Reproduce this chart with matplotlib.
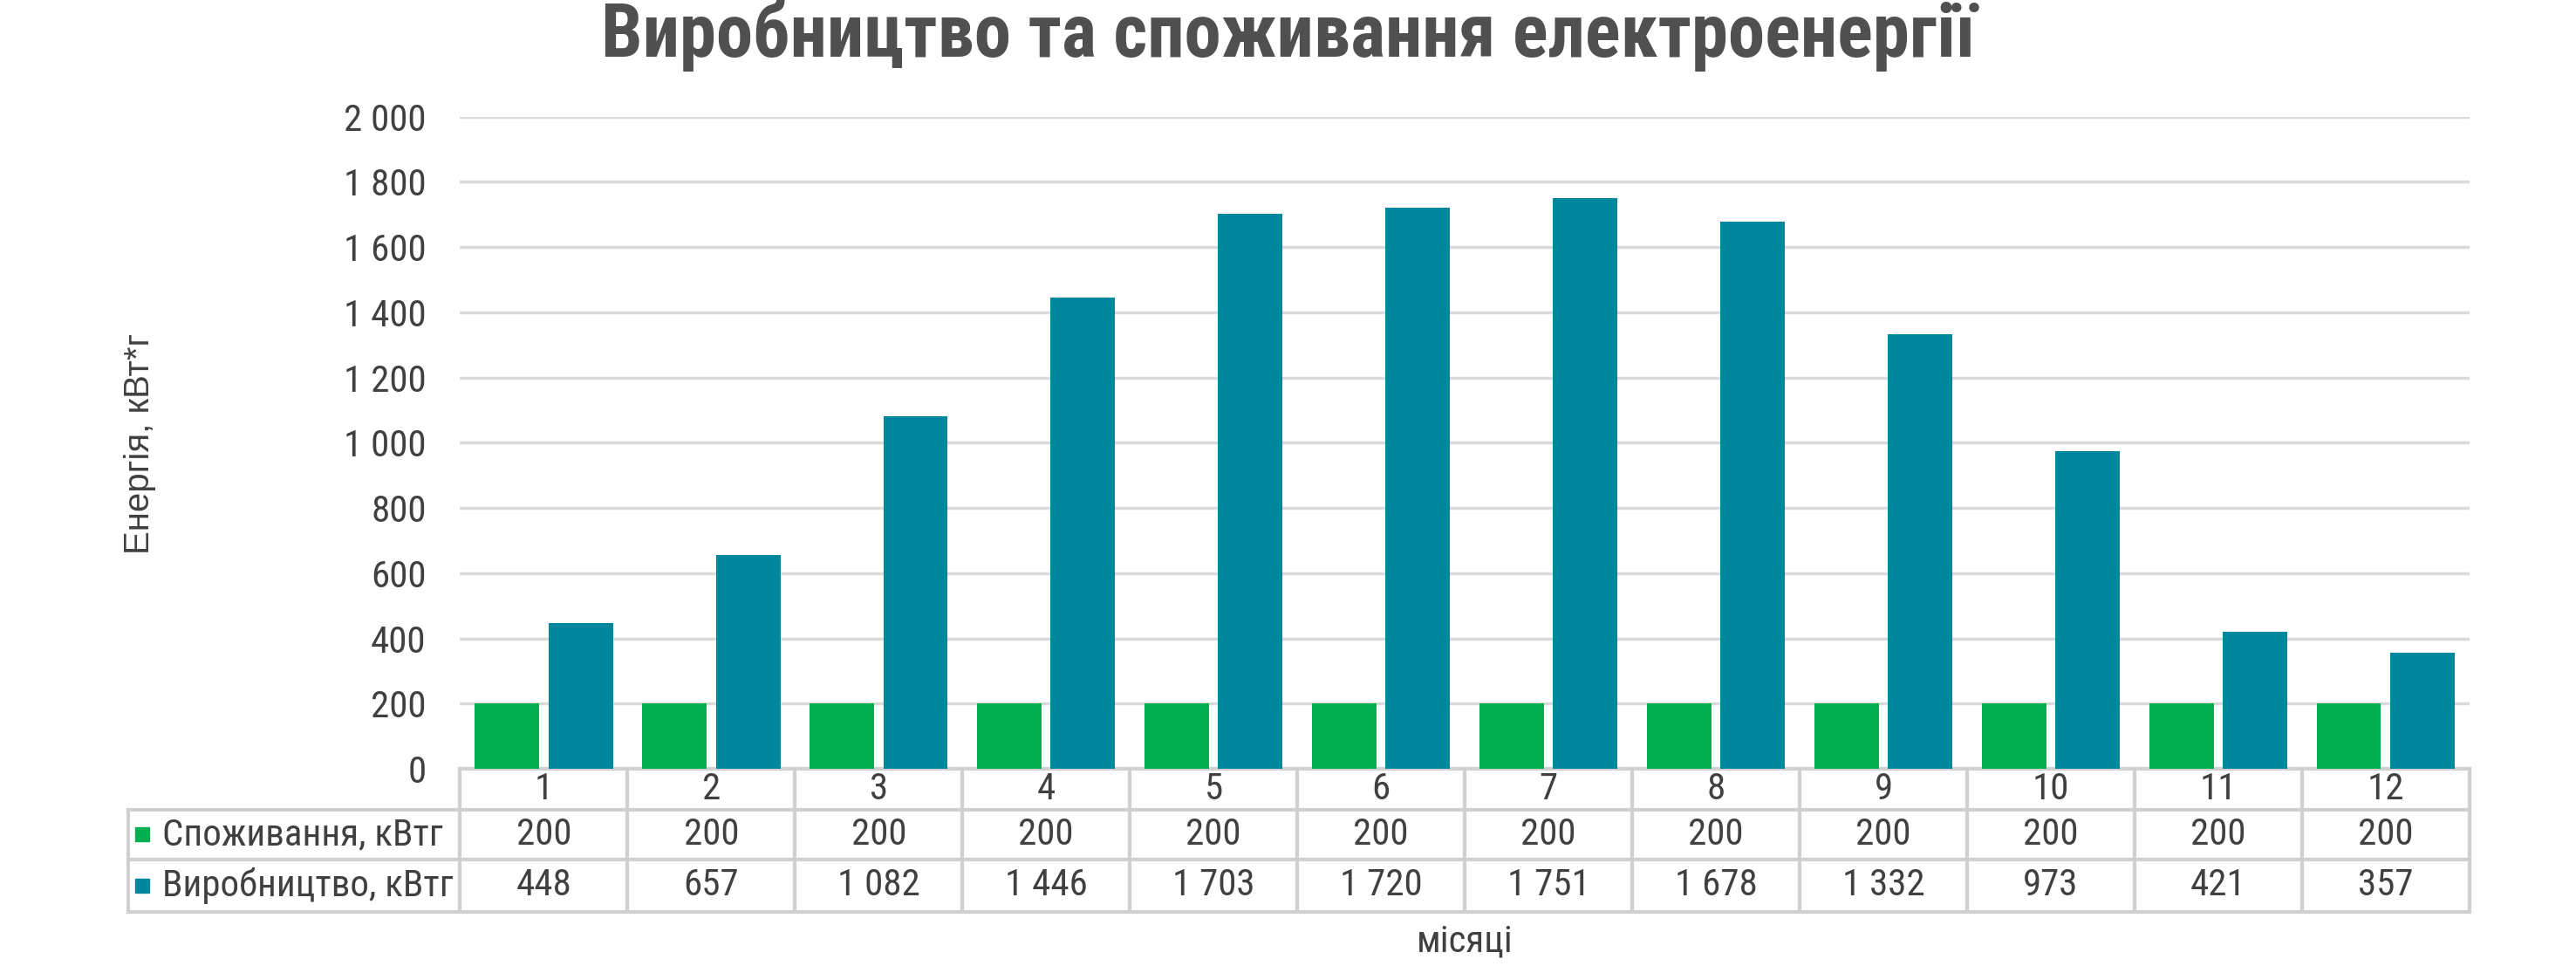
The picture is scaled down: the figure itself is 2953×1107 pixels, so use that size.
import numpy as np
import matplotlib.pyplot as plt
from matplotlib import font_manager
from matplotlib.ticker import FuncFormatter

# look for a narrow sans face (Arial Narrow-like), else plain Liberation Sans
narrow_names = set()
condensed_styles = set()
for f in font_manager.fontManager.ttflist:
    if "Mono" in f.name or "Serif" in f.name:
        continue
    if "Narrow" in f.name or "Condensed" in f.name:
        narrow_names.add(f.name)
    elif str(f.stretch) in ("condensed", "semi-condensed", "extra-condensed", "600", "500"):
        condensed_styles.add(f.name)

main_font, stretch, k = "Liberation Sans", "normal", 0.86
for cand in ["Liberation Sans Narrow", "Arial Narrow", "Roboto Condensed",
             "Noto Sans Condensed", "Open Sans Condensed", "DejaVu Sans Condensed"]:
    if cand in narrow_names:
        main_font, k = cand, 1.0
        break
else:
    for cand in ["Noto Sans", "Open Sans", "DejaVu Sans", "Roboto"]:
        if cand in condensed_styles:
            main_font, stretch, k = cand, "condensed", 0.95
            break

plt.rcParams['font.family'] = [main_font, 'Liberation Sans', 'DejaVu Sans']
plt.rcParams['font.stretch'] = stretch

# data
months = ["1", "2", "3", "4", "5", "6", "7", "8", "9", "10", "11", "12"]
consumption = [200, 200, 200, 200, 200, 200, 200, 200, 200, 200, 200, 200]
production = [448, 657, 1082, 1446, 1703, 1720, 1751, 1678, 1332, 973, 421, 357]
series_names = ["Споживання, кВтг", "Виробництво, кВтг"]
colors = ["#00B050", "#00879E"]

title = "Виробництво та споживання електроенергії"
ylabel = "Енергія, кВт*г"
xlabel = "місяці"

text_col = "#404040"
line_col = "#D9D9D9"


def fmt(v):
    return f"{int(round(v)):,}".replace(",", " ")


fig = plt.figure(figsize=(29.53, 11.07), dpi=100)
ax = fig.add_axes([0.1786, 0.2041, 0.7800, 0.6752])

x = np.arange(len(months)) + 0.5
w = 0.385
ax.bar(x - 0.22, consumption, w, color=colors[0], zorder=3)
ax.bar(x + 0.22, production, w, color=colors[1], zorder=3)

fs = 31 * k

ax.set_xlim(0, len(months))
ax.set_ylim(0, 2000)
ax.set_yticks(np.arange(0, 2001, 200))
ax.yaxis.set_major_formatter(FuncFormatter(lambda v, p: fmt(v)))
ax.tick_params(axis="y", length=0, pad=28, labelsize=fs, labelcolor=text_col)
ax.set_xticks([])
ax.grid(axis="y", color=line_col, lw=2.5)
ax.set_axisbelow(True)
for s in ax.spines.values():
    s.set_visible(False)

# data table under the axis
tr = ax.get_xaxis_transform()
left = -1.98
rows = [0, -0.063, -0.1385, -0.219]
lc = "#D0D0D0"
ax.plot([0, len(months)], [0, 0], color=lc, lw=3, transform=tr, clip_on=False)
for yy in rows[1:]:
    ax.plot([left, len(months)], [yy, yy], color=lc, lw=3, transform=tr, clip_on=False)
for i in range(len(months) + 1):
    ax.plot([i, i], [rows[0], rows[-1]], color=lc, lw=3, transform=tr, clip_on=False)
ax.plot([left, left], [rows[1], rows[-1]], color=lc, lw=3, transform=tr, clip_on=False)

for i, m in enumerate(months):
    ax.text(x[i], (rows[0] + rows[1]) / 2, m, ha="center", va="center",
            fontsize=fs, color=text_col, transform=tr)
for r, vals in enumerate([consumption, production]):
    yc = (rows[r + 1] + rows[r + 2]) / 2
    for i, v in enumerate(vals):
        ax.text(x[i], yc, fmt(v), ha="center", va="center",
                fontsize=fs, color=text_col, transform=tr)
    ax.plot([-1.90], [yc], marker="s", ms=12, color=colors[r], transform=tr, clip_on=False)
    ax.text(-1.78, yc, series_names[r], ha="left", va="center",
            fontsize=fs, color=text_col, transform=tr)

fig.text(0.5, 0.9626, title, ha="center", va="center", fontsize=61 * k,
         fontweight="bold", color="#505050")
fig.text(85 / 1568, 1 - 270 / 588, ylabel, rotation=90, ha="center", va="center",
         fontsize=29, color=text_col, family=["Liberation Sans", "DejaVu Sans"],
         fontstretch="normal")
fig.text(0.1786 + 0.78 / 2, 0.0255, xlabel, ha="center", va="center",
         fontsize=fs, color=text_col)

fig.savefig("out.png", dpi=100, facecolor="white")
